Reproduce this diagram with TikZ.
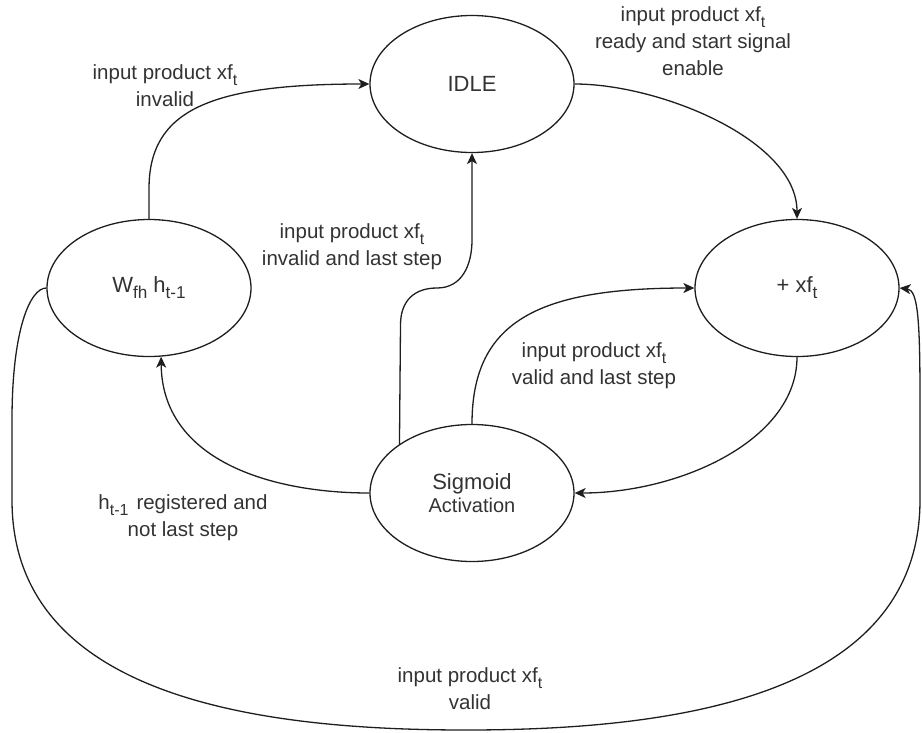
\documentclass[tikz,border=0pt]{standalone}
\usepackage{fontspec}
\setmainfont{Liberation Sans}
\usepackage{graphicx}
\usetikzlibrary{arrows.meta,shapes.geometric}
% lowered, smaller index text (subscript)
\newcommand{\lowsub}[1]{\raisebox{-0.28em}{\scalebox{0.78}{#1}}}
\definecolor{ink}{HTML}{1E1E1E}
\definecolor{txt}{HTML}{333333}
\begin{document}
\begin{tikzpicture}[x=1pt,y=-1pt,
  state/.style={ellipse,draw=ink,line width=1.3pt,minimum width=204pt,minimum height=137pt,
                inner sep=0pt,font=\fontsize{22}{26}\selectfont,text=txt,align=center},
  lbl/.style={align=center,text=txt,font=\fontsize{20.5}{27}\selectfont,inner sep=0pt},
  edge/.style={draw=ink,line width=1.3pt,-{Stealth[length=11pt,width=10pt,inset=3pt]}}
]
\useasboundingbox (0,0) rectangle (922,732);

% states
\node[state] (idle) at (472,84) {IDLE};
\node[state] (wfh) at (149,288) {W\lowsub{fh} h\lowsub{t-1}};
\node[state] (add) at (797,288) {+ xf\lowsub{t}};
\node[state] (sig) at (472,493) {Sigmoid\\[-3pt]{\fontsize{20}{24}\selectfont Activation}};

% transitions
\draw[edge] (wfh.north) -- ++(0,-30) .. controls (149,110) and (210,84) .. (idle.west);
\draw[edge] (idle.east) .. controls (660,84) and (797,140) .. (add.north);
\draw[edge] (add.south) .. controls (797,440) and (680,493) .. (sig.east);
\draw[edge] (sig.west) .. controls (270,493) and (162,460) .. (wfh.-80);
\draw[edge] (sig.north) .. controls (472,320) and (540,288) .. (add.west);

\coordinate (bend) at (437,288);
\draw[edge] (sig.146) -- (400.5,325) .. controls (400.5,300) and (415,288) .. (bend)
  .. controls (462,288) and (472,265) .. (472,240) -- (idle.south);

\coordinate (bot) at (466,730);
\draw[edge] (wfh.west) .. controls (30,288) and (12,330) .. (12,420) -- (12,500)
  .. controls (12,700) and (266,730) .. (bot)
  .. controls (666,730) and (920,700) .. (920,500) -- (920,400)
  .. controls (920,320) and (918,290) .. (add.east);

% transition labels
\node[lbl] (l1) at (165,86) {input product xf\lowsub{t}\\invalid};
\node[lbl] (l2) at (693,41) {input product xf\lowsub{t}\\ready and start signal\\enable};
\node[lbl] (l3) at (352,247) {input product xf\lowsub{t}\\invalid and last step};
\node[lbl] (l4) at (594,366) {input product xf\lowsub{t}\\valid and last step};
\node[lbl] (l5) at (183,518) {h\lowsub{t-1}\hspace{8pt}registered and\\not last step};
\node[lbl] (l6) at (470,689) {input product xf\lowsub{t}\\valid};
\end{tikzpicture}
\end{document}
